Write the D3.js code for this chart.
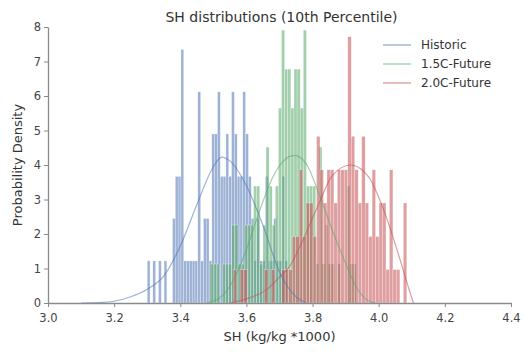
<!DOCTYPE html>
<html>
<head>
<meta charset="utf-8">
<script src="https://cdn.jsdelivr.net/npm/d3@7"></script>
<style>
body { margin: 0; background: #fff; }
svg { font-family: "DejaVu Sans", sans-serif; }
</style>
</head>
<body>
<svg id="chart"></svg>
<script>
// histogram bins (density)
let histStart = [3.300, 3.490, 3.560]
let histWidth = [0.0085, 0.0094, 0.0105]

let blueDens = [1.22,0,1.22,0,1.22,0,1.22,0,0,2.45,3.67,3.67,7.35,1.22,1.22,1.22,1.22,1.22,6.12,1.22,
  2.45,2.45,1.22,4.9,4.9,6.12,3.67,3.67,4.9,3.67,6.12,4.9,3.67,3.67,6.12,4.9,3.67,2.45,1.22,2.45,
  1.22,1.22,3.67,1.22,1.22,2.45,1.22,1.22,3.67,1.22]
let greenDens = [1.13,1.13,1.13,0,1.13,1.13,1.13,2.26,2.26,1.13,1.13,2.26,2.26,2.26,3.39,3.39,1.13,2.26,4.52,3.39,
  2.26,3.39,5.65,7.91,6.78,6.78,5.65,6.78,6.78,5.65,7.91,3.39,3.39,3.39,1.13,4.52,1.13,2.26,1.13,1.13,
  0,1.13,0,0,3.39,1.13,1.13,0,0,0]
let redDens = [0.97,0,0.97,0.97,0,0,0,0,0,0.97,0,0.97,0,0,0.97,0.97,0.97,1.93,1.93,3.86,
  1.93,2.9,2.9,1.93,4.83,3.86,2.9,3.86,3.86,2.9,3.86,3.86,3.86,7.72,4.83,3.86,2.9,4.83,2.9,1.93,
  3.86,1.93,2.9,2.9,0.97,3.86,0.97,0.97,0,2.9]

// fitted curves, points
let blueCurveX = [3.10,3.15,3.20,3.25,3.30,3.35,3.40,3.45,3.50,3.525,3.55,3.60,3.65,3.70,3.75,3.78]
let blueCurveY = [0,0.01,0.05,0.18,0.40,0.78,1.65,2.85,3.95,4.23,4.12,3.40,2.25,0.90,0.18,0]
let greenCurveX = [3.48,3.52,3.56,3.60,3.63,3.68,3.71,3.745,3.78,3.82,3.86,3.90,3.93,3.96,3.99]
let greenCurveY = [0,0.15,0.65,1.55,2.40,3.65,4.10,4.28,4.05,3.15,2.10,1.15,0.50,0.12,0]
let redCurveX = [3.55,3.60,3.66,3.70,3.73,3.76,3.82,3.86,3.915,3.97,4.015,4.06,4.09,4.105]
let redCurveY = [0,0.12,0.38,0.75,1.05,1.60,2.90,3.70,4.00,3.65,2.70,1.40,0.45,0]

let seriesNames = ["Historic", "1.5C-Future", "2.0C-Future"]
let colors = ["#4c72b0", "#55a868", "#c44e52"]
let xTicks = [3.0,3.2,3.4,3.6,3.8,4.0,4.2,4.4]
let yTicks = [0,1,2,3,4,5,6,7,8]

let width = 524
let height = 352
let margin = {left: 48, right: 13, top: 27, bottom: 49}

let svg = d3.select('#chart').attr('width', width).attr('height', height)

let xScale = d3.scaleLinear().domain([3.0, 4.4]).range([margin.left, width - margin.right])
let yScale = d3.scaleLinear().domain([0, 8]).range([height - margin.bottom, margin.top])

let dens = [blueDens, greenDens, redDens]
let curves = [[blueCurveX, blueCurveY], [greenCurveX, greenCurveY], [redCurveX, redCurveY]]

let plot = svg.append('g')

dens.forEach((d, s) => {
  plot.append('g').selectAll('rect')
    .data(d)
    .enter()
    .append('rect')
    .attr('x', (v, i) => xScale(histStart[s] + i * histWidth[s]))
    .attr('width', (v, i) => xScale(histStart[s] + (i + 1) * histWidth[s]) - xScale(histStart[s] + i * histWidth[s]))
    .attr('y', v => yScale(v))
    .attr('height', v => yScale(0) - yScale(v))
    .attr('fill', colors[s])
    .attr('fill-opacity', v => v > 0 ? 0.55 : 0)
    .attr('stroke', 'white')
    .attr('stroke-opacity', 0.8)
    .attr('stroke-width', 0.35)
})

let line = d3.line().x(p => xScale(p[0])).y(p => yScale(p[1])).curve(d3.curveMonotoneX)

curves.forEach((c, s) => {
  let pts = c[0].map((x, i) => [x, c[1][i]])
  plot.append('path')
    .datum(pts)
    .attr('d', line)
    .attr('fill', 'none')
    .attr('stroke', colors[s])
    .attr('stroke-width', 1.2)
    .attr('stroke-opacity', 0.55)
})

// axes
let xAxis = d3.axisBottom(xScale).tickValues(xTicks).tickFormat(d3.format('.1f')).tickSize(4).tickSizeOuter(0)
let gx = svg.append('g').attr('transform', 'translate(0,' + (height - margin.bottom) + ')').call(xAxis)

let yAxis = d3.axisLeft(yScale).tickValues(yTicks).tickFormat(d3.format('d')).tickSize(4).tickSizeOuter(0)
let gy = svg.append('g').attr('transform', 'translate(' + margin.left + ',0)').call(yAxis)

;[gx, gy].forEach(g => {
  g.select('.domain').attr('stroke', '#8a8a8a').attr('stroke-width', 1.3)
  g.selectAll('.tick line').attr('stroke', '#8a8a8a').attr('stroke-width', 1)
  g.selectAll('.tick text').attr('fill', '#444').style('font-size', '11.5px').style('font-family', '"DejaVu Sans", sans-serif')
})
gx.selectAll('.tick text').attr('dy', '1.05em')

svg.append('text')
  .attr('x', (margin.left + width - margin.right) / 2 + 2)
  .attr('y', 22)
  .attr('text-anchor', 'middle')
  .attr('fill', '#333')
  .style('font-size', '14px')
  .text('SH distributions (10th Percentile)')

svg.append('text')
  .attr('x', (margin.left + width - margin.right) / 2)
  .attr('y', 341)
  .attr('text-anchor', 'middle')
  .attr('fill', '#333')
  .style('font-size', '13px')
  .text('SH (kg/kg *1000)')

svg.append('text')
  .attr('transform', 'translate(22,' + ((margin.top + height - margin.bottom) / 2) + ') rotate(-90)')
  .attr('text-anchor', 'middle')
  .attr('fill', '#333')
  .style('font-size', '13px')
  .text('Probability Density')

// legend
let legend = svg.append('g')
seriesNames.forEach((n, s) => {
  let y = 45 + s * 19
  legend.append('line')
    .attr('x1', 383).attr('x2', 411).attr('y1', y).attr('y2', y)
    .attr('stroke', colors[s]).attr('stroke-opacity', 0.5).attr('stroke-width', 1.5)
  legend.append('text')
    .attr('x', 421).attr('y', y + 4)
    .attr('fill', '#333')
    .style('font-size', '12px')
    .text(n)
})
</script>
</body>
</html>
